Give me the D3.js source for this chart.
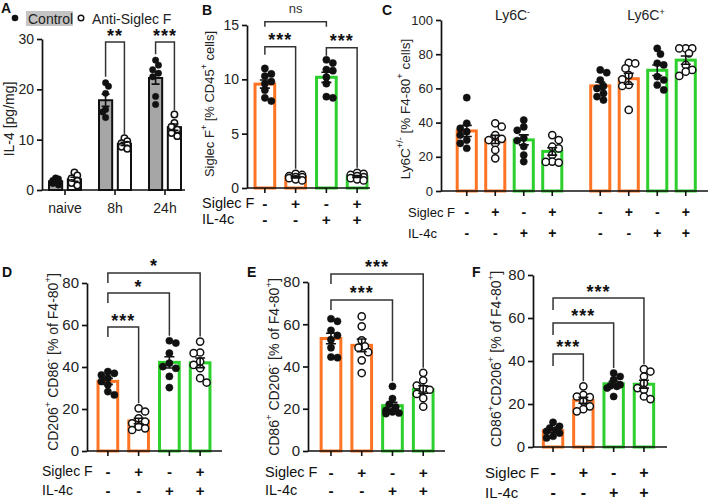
<!DOCTYPE html>
<html><head><meta charset="utf-8">
<script src="https://cdn.jsdelivr.net/npm/d3@7"></script>
<style>
body{margin:0;background:#fff;}
svg{display:block;}
</style></head><body>
<svg id="c" width="709" height="504"></svg>
<script>
// ---------------- DATA ----------------
const aCategories = ["naive", "8h", "24h"];
const aSeries = ["Control", "Anti-Siglec F"];
const aControl = [[2.4,2.2,1.9,1.6,1.3,1.0],[21.3,20.6,19.2,16.0,15.5,14.4],[25.8,24.8,23.9,23.2,22.5,18.6,17.0]];
const aAnti = [[3.5,2.9,2.3,1.8,1.4,0.9],[10.3,9.7,9.3,9.0,8.6,8.2],[15.0,13.3,12.6,12.0,11.3,10.7]];
const aTicks = [0,10,20,30];
const aBrackets = [{cat:1,label:"**",y:29.4},{cat:2,label:"***",y:29.4}];

const siglecF = ["-","+","-","+"];
const il4c = ["-","-","+","+"];

const bValues = [
  [11.0,10.5,10.3,9.8,9.6,9.0,8.3,8.0],
  [1.3,1.2,1.1,1.0,1.0,0.9,0.8,0.7],
  [11.8,11.5,10.9,10.8,10.2,9.6,8.4,8.3],
  [1.4,1.3,1.2,1.1,1.0,0.9,0.8,0.7]
];
const bTicks = [0,5,10,15];
const bBrackets = [{from:0,to:2,label:"ns",y:15.3},{from:0,to:1,label:"***",y:13.0},{from:2,to:3,label:"***",y:12.9}];

const cSubsets = ["-","+"];
const cLy6CNeg = [
  [54.6,39.6,36.6,34.7,32.7,29.8,27.9,25.0],
  [39.6,37.6,32.7,30.5,29.8,27.9,24.0,19.1],
  [41.5,37.5,35.5,31.0,29.5,26.0,21.0,17.2],
  [32.7,29.8,25.9,24.9,21.1,17.2,17.0,16.6]
];
const cLy6CPos = [
  [70.8,69.2,64.9,61.4,60.0,57.1,55.2,53.2],
  [75.0,74.6,71.7,67.8,65.3,62.0,61.4,47.4],
  [83.4,80.1,74.7,73.7,66.9,64.9,62.0,59.1],
  [83.4,83.4,83.4,80.5,73.7,70.8,69.8,67.3]
];
const cTicks = [0,20,40,60,80,100];

const dValues = [
  [37.8,37.0,36.2,34.7,33.1,31.5,28.3,26.7],
  [20.3,18.8,15.6,14.0,13.2,11.6,10.8,10.0],
  [52.5,51.4,46.6,41.8,40.2,39.4,35.5,30.2],
  [52.1,46.9,46.6,42.6,41.0,39.4,34.7,32.6]
];
const dBrackets = [{from:0,to:1,label:"***",y:59.0},{from:0,to:2,label:"*",y:75.2},{from:0,to:3,label:"*",y:84.8}];

const eValues = [
  [62.6,61.4,57.1,54.7,52.7,48.9,44.5,44.2],
  [63.7,59.0,52.4,49.5,48.9,46.8,42.9,36.9],
  [30.6,24.8,22.1,20.8,19.2,18.5,18.0,17.7],
  [37.0,33.5,31.0,29.5,29.0,27.0,25.0,21.0]
];
const eBrackets = [{from:0,to:2,label:"***",y:71.5},{from:0,to:3,label:"***",y:83.8}];

const fValues = [
  [11.5,9.6,8.8,8.0,7.3,6.5,5.0,4.2],
  [28.2,24.3,23.5,23.2,21.2,18.9,17.6,16.6],
  [34.4,32.8,31.3,29.0,28.5,28.2,27.4,23.5],
  [36.2,35.1,32.8,29.7,27.4,26.6,23.5,22.3]
];
const defTicks = [0,20,40,60,80];
const fBrackets = [{from:0,to:1,label:"***",y:43.3},{from:0,to:2,label:"***",y:57.7},{from:0,to:3,label:"***",y:69.3}];

// ---------------- HELPERS ----------------
const FONT = '"Liberation Sans", Arial, Helvetica, sans-serif';
const ORANGE = "#fd7424", GREEN = "#2ccf2c", INK = "#111";
const svg = d3.select("#c").attr("font-family", FONT).attr("fill", INK);

function stats(v){ return {m: d3.mean(v), sem: v.length>1 ? d3.deviation(v)/Math.sqrt(v.length) : 0}; }

function swarm(vals, cx, y, r, maxOff){
  const pts = vals.map((v,i)=>({v, i, py:y(v)}));
  const order = pts.slice().sort((a,b)=>a.py-b.py);
  const placed = [];
  const step = r*0.9;
  order.forEach((p,k)=>{
    const cands=[0];
    for(let j=1;j<=10;j++){ const s=(k%2?1:-1); cands.push(s*j*step, -s*j*step); }
    let best=0, bestO=Infinity;
    for(const c of cands){
      if(Math.abs(c)>maxOff) continue;
      let o=0;
      for(const q of placed){ const d=Math.hypot(c-q.dx, p.py-q.py); o+=Math.max(0, 2*r*0.9-d); }
      if(o<bestO-1e-9){bestO=o;best=c;}
      if(o===0) break;
    }
    p.dx=best; placed.push(p);
  });
  return pts.map(p=>({x:cx+p.dx, y:p.py}));
}

function drawBarGroups(g, o){
  const st = o.groups.map(stats);
  g.selectAll(null).data(o.groups).join("rect")
    .attr("x",(d,i)=>o.centers[i]-o.bw/2).attr("y",(d,i)=>o.y(st[i].m))
    .attr("width",o.bw).attr("height",(d,i)=>o.y(0)-o.y(st[i].m))
    .attr("fill",(d,i)=>o.fills[i]).attr("stroke",(d,i)=>o.strokes[i]).attr("stroke-width",o.sw);
  o.groups.forEach((vals,i)=>{
    const pts = swarm(vals, o.centers[i], o.y, o.r, o.bw/2-1);
    g.selectAll(null).data(pts).join("circle")
      .attr("cx",d=>d.x).attr("cy",d=>d.y).attr("r",o.r)
      .attr("fill",o.filled[i]?INK:"#fff").attr("stroke",INK).attr("stroke-width",o.filled[i]?0.5:1.5);
  });
  st.forEach((s,i)=>{
    const cx=o.centers[i], y1=o.y(s.m+s.sem), y2=o.y(Math.max(0,s.m-s.sem)), cw=o.cap;
    g.append("path").attr("d",`M${cx},${y1}V${y2}M${cx-cw},${y1}H${cx+cw}M${cx-cw},${y2}H${cx+cw}`)
      .attr("stroke",INK).attr("stroke-width",1.6).attr("fill","none");
  });
}

function yAxis(g, x, y, ticks, fs){
  const ax = g.append("g").attr("transform",`translate(${x},0)`)
    .call(d3.axisLeft(y).tickValues(ticks).tickSize(5).tickSizeOuter(0).tickPadding(3));
  ax.attr("font-family",FONT).attr("font-size",fs);
  ax.select(".domain").attr("stroke",INK).attr("stroke-width",1.7);
  ax.selectAll(".tick line").attr("stroke",INK).attr("stroke-width",1.7);
  ax.selectAll(".tick text").attr("fill","#222");
}

function xAxis(g, x0, x1, yb, centers){
  g.append("line").attr("x1",x0).attr("x2",x1).attr("y1",yb).attr("y2",yb).attr("stroke",INK).attr("stroke-width",1.7);
  g.selectAll(null).data(centers).join("line")
    .attr("x1",d=>d).attr("x2",d=>d).attr("y1",yb).attr("y2",yb+5).attr("stroke",INK).attr("stroke-width",1.6);
}

function signRows(g, labelX, rowYs, centers, rows, fs){
  const names=["Siglec F","IL-4c"];
  rows.forEach((row,ri)=>{
    g.append("text").attr("x",labelX).attr("y",rowYs[ri]).attr("dominant-baseline","central").attr("font-size",fs).text(names[ri]);
    g.selectAll(null).data(row).join("text")
      .attr("x",(d,i)=>centers[i]).attr("y",rowYs[ri]).attr("text-anchor","middle")
      .attr("dominant-baseline","central").attr("font-size",fs+1).attr("font-weight","bold").text(d=>d);
  });
}

function rotLabel(g, x, y, parts, fs){
  const t = g.append("text").attr("transform",`translate(${x},${y}) rotate(-90)`)
    .attr("text-anchor","middle").attr("dominant-baseline","central").attr("font-size",fs).attr("fill","#222");
  parts.forEach(p=>{
    const s=t.append("tspan").text(p[0]);
    if(p[1]==="sup") s.attr("baseline-shift","super").attr("font-size",fs*0.68);
  });
}

function drawBracket(g, x1, x2, yTop, yL, yR, label){
  g.append("path").attr("d",`M${x1},${yL}V${yTop}H${x2}V${yR}`).attr("fill","none").attr("stroke","#333").attr("stroke-width",1.5);
  const t=g.append("text").attr("x",(x1+x2)/2).attr("text-anchor","middle");
  if(label==="ns") t.attr("y",yTop-8.5).attr("font-size",13).attr("fill","#333").text("ns");
  else t.attr("y",yTop-0.5).attr("font-size",18).attr("font-weight","bold").attr("letter-spacing",1).text(label);
}

function panelLabel(x,y,s){ svg.append("text").attr("x",x).attr("y",y).attr("font-size",14).attr("font-weight","bold").text(s); }

// ---------------- PANEL A ----------------
{
  const g = svg.append("g");
  const y = d3.scaleLinear().domain([0,30]).range([190,39]);
  const x = d3.scaleBand().domain(aCategories).range([40,190]);
  const xi = d3.scaleBand().domain(aSeries).range([-16,16]).paddingInner(0.3);
  const groups=[], centers=[], fills=[], filled=[];
  aCategories.forEach((c,ci)=>{
    [aControl,aAnti].forEach((arr,si)=>{
      groups.push(arr[ci]);
      centers.push(x(c)+x.bandwidth()/2+xi(aSeries[si])+xi.bandwidth()/2);
      fills.push(si===0?"#a6a6a6":"#fff"); filled.push(si===0);
    });
  });
  drawBarGroups(g,{centers,bw:xi.bandwidth(),y,groups,strokes:groups.map(()=>INK),fills,filled,r:3.2,sw:2,cap:4});
  yAxis(g,42,y,aTicks,14);
  const catCenters = aCategories.map(c=>x(c)+x.bandwidth()/2);
  xAxis(g,42,185,y(0),catCenters);
  g.selectAll(null).data(aCategories).join("text").attr("x",(d,i)=>catCenters[i]).attr("y",208)
    .attr("text-anchor","middle").attr("dominant-baseline","central").attr("font-size",14).attr("fill","#222").text(d=>d);
  rotLabel(g,9,119,[["IL-4 [pg/mg]"]],14);
  aBrackets.forEach(b=>{
    const i1=b.cat*2, i2=b.cat*2+1;
    drawBracket(g,centers[i1],centers[i2],y(b.y),y(d3.max(groups[i1]))-6,y(d3.max(groups[i2]))-4,b.label);
  });
  // legend
  g.append("circle").attr("cx",15).attr("cy",18).attr("r",3.3).attr("fill",INK);
  g.append("rect").attr("x",26).attr("y",11).attr("width",47).attr("height",15).attr("fill","#c4c4c4");
  g.append("text").attr("x",28).attr("y",23.5).attr("font-size",14).attr("fill","#222").text(aSeries[0]);
  g.append("circle").attr("cx",81).attr("cy",18).attr("r",2.8).attr("fill","#fff").attr("stroke",INK).attr("stroke-width",1.4);
  g.append("text").attr("x",92).attr("y",23.5).attr("font-size",14).attr("fill","#222").text(aSeries[1]);
  panelLabel(1,13,"A");
}

const colorsFor = il4c.map(v=>v==="-"?ORANGE:GREEN);
const filledFor = siglecF.map(v=>v==="-");

function standardPanel(o){
  const g = svg.append("g");
  const x = d3.scaleBand().domain(d3.range(4)).range(o.xr).paddingInner(0.36).paddingOuter(0.18);
  const centers = d3.range(4).map(i=>x(i)+x.bandwidth()/2);
  drawBarGroups(g,{centers,bw:x.bandwidth(),y:o.y,groups:o.values,strokes:colorsFor,fills:colorsFor.map(()=>"#fff"),filled:filledFor,r:3.6,sw:3,cap:5});
  yAxis(g,o.ax,o.y,o.ticks,o.tfs);
  xAxis(g,o.ax,o.xEnd,o.y(0),centers);
  signRows(g,o.labelX,o.rowYs,centers,[siglecF,il4c],o.sfs);
  rotLabel(g,o.ylx,o.yly,o.ylabel,o.ylfs);
  o.brackets.forEach(b=>{
    const top=o.y(b.y);
    const yL = b.label==="ns" ? top+5 : top+(o.leftLeg||9);
    const yR = b.label==="ns" ? top+5 : o.y(d3.max(o.values[b.to]))-5;
    drawBracket(g,centers[b.from],centers[b.to],top,yL,yR,b.label);
  });
}

// ---------------- PANEL B ----------------
standardPanel({values:bValues,y:d3.scaleLinear().domain([0,15]).range([188,25]),xr:[249.5,372.5],ax:247,xEnd:370,
  ticks:bTicks,tfs:14,labelX:202,rowYs:[203,219],sfs:14.5,ylx:209,yly:104,ylfs:13,leftLeg:8,
  ylabel:[["Siglec F"],["+","sup"],[" [% CD45"],["+","sup"],[" cells]"]],brackets:bBrackets});
panelLabel(202,15,"B");

// ---------------- PANEL C ----------------
{
  const g = svg.append("g");
  const y = d3.scaleLinear().domain([0,100]).range([191,20]);
  const xo = d3.scaleBand().domain(cSubsets).range([452.5,700]).paddingInner(0.146);
  const xi = d3.scaleBand().domain(d3.range(4)).range([0,xo.bandwidth()]).paddingInner(0.33).paddingOuter(0.165);
  const groups = cLy6CNeg.concat(cLy6CPos);
  const centers=[];
  cSubsets.forEach(s=>d3.range(4).forEach(i=>centers.push(xo(s)+xi(i)+xi.bandwidth()/2)));
  const strokes = colorsFor.concat(colorsFor), filled = filledFor.concat(filledFor);
  drawBarGroups(g,{centers,bw:xi.bandwidth(),y,groups,strokes,fills:strokes.map(()=>"#fff"),filled,r:3.6,sw:3,cap:5});
  yAxis(g,441,y,cTicks,13);
  xAxis(g,441,708,y(0),centers);
  signRows(g,408,[212,233],centers,[siglecF.concat(siglecF),il4c.concat(il4c)],13);
  rotLabel(g,405,109,[["Ly6C"],["+/-","sup"],["  [% F4-80"],["+","sup"],[" cells]"]],13.5);
  cSubsets.forEach(s=>{
    const t=g.append("text").attr("x",xo(s)+xo.bandwidth()/2+3).attr("y",20).attr("text-anchor","middle").attr("font-size",14).attr("fill","#222");
    t.append("tspan").text("Ly6C");
    t.append("tspan").attr("baseline-shift","super").attr("font-size",9).text(s);
  });
  panelLabel(382,15,"C");
}

// ---------------- PANEL D ----------------
standardPanel({values:dValues,y:d3.scaleLinear().domain([0,80]).range([451,283]),xr:[92.5,215.5],ax:87,xEnd:222,
  ticks:defTicks,tfs:15,labelX:42,rowYs:[471,490],sfs:14,ylx:53,yly:362,ylfs:14,leftLeg:10,
  ylabel:[["CD206"],["+","sup"],[" CD86"],["-","sup"],[" [% of  F4-80"],["+","sup"],["]"]],brackets:dBrackets});
panelLabel(2,277,"D");

// ---------------- PANEL E ----------------
standardPanel({values:eValues,y:d3.scaleLinear().domain([0,80]).range([451,282]),xr:[315.6,438.6],ax:308,xEnd:445,
  ticks:defTicks,tfs:15,labelX:265,rowYs:[472,490],sfs:14.5,ylx:274,yly:367,ylfs:14,leftLeg:10,
  ylabel:[["CD86"],["+","sup"],[" CD206"],["-","sup"],[" [% of F4-80"],["+","sup"],["]"]],brackets:eBrackets});
panelLabel(247,277,"E");

// ---------------- PANEL F ----------------
standardPanel({values:fValues,y:d3.scaleLinear().domain([0,80]).range([447,275]),xr:[537.9,659.1],ax:533,xEnd:667,
  ticks:defTicks,tfs:15,labelX:485,rowYs:[472,492],sfs:15,ylx:496,yly:359,ylfs:14,leftLeg:12,
  ylabel:[["CD86"],["+","sup"],["CD206"],["+","sup"],[" [% of  F4-80"],["+","sup"],["]"]],brackets:fBrackets});
panelLabel(472,277,"F");
</script>
</body></html>
